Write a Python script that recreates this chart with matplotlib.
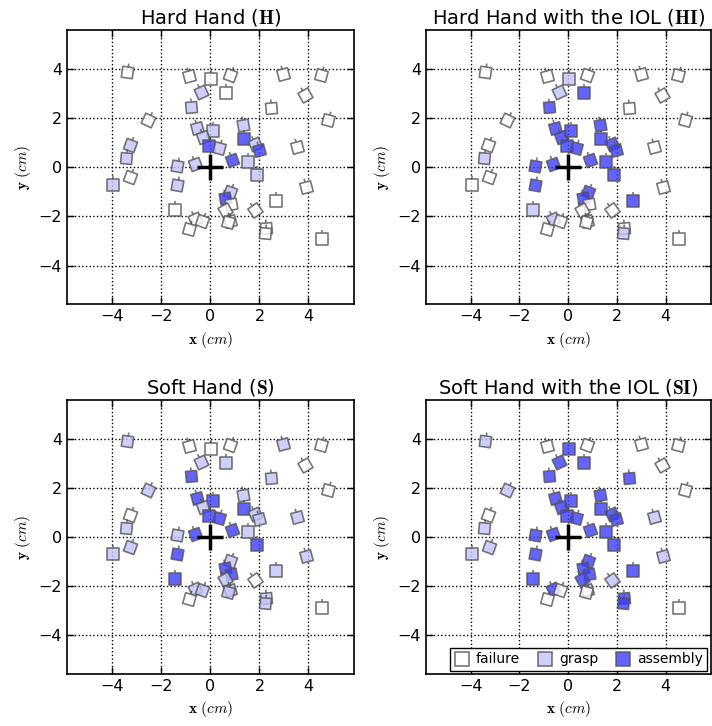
import matplotlib
matplotlib.use("Agg")
import matplotlib.pyplot as plt
from matplotlib.path import Path
from matplotlib.markers import MarkerStyle
from matplotlib.transforms import Affine2D
from matplotlib.lines import Line2D

plt.rcParams['mathtext.fontset'] = 'cm'
plt.rcParams['font.family'] = ['DejaVu Sans']

# test poses (cm) and orientations (deg)
xs = [-3.41, -0.86, 0.03, 0.79, -0.38, 0.65, -0.79, 2.98, 4.52, 3.85, 2.48, 4.78,
      -2.53, -3.28, -3.44, -3.27, -3.96, -0.56, 0.10, -0.31, -0.04, 0.34, 1.32, 1.35,
      1.80, 1.97, 0.88, 1.54, 1.90, -1.35, -0.61, -1.35, 3.52, 3.90, 0.80, 0.61,
      0.86, 0.58, 0.78, 0.72, -1.43, -0.63, -0.34, -0.88, 1.81, 2.67, 2.28, 2.24, 4.56]
ys = [3.90, 3.70, 3.58, 3.77, 3.05, 3.01, 2.47, 3.79, 3.75, 2.95, 2.41, 1.92,
      1.94, 0.92, 0.37, -0.41, -0.70, 1.60, 1.46, 1.22, 0.85, 0.77, 1.73, 1.15,
      0.95, 0.72, 0.31, 0.23, -0.32, 0.07, 0.14, -0.70, 0.81, -0.78, -0.99, -1.25,
      -1.50, -1.72, -2.17, -2.24, -1.72, -2.10, -2.17, -2.51, -1.73, -1.38, -2.48, -2.66, -2.90]
angles = [-8, 15, 0, -20, 25, 0, 5, 15, -15, 30, 5, -15,
          -25, -20, -5, -20, 0, 15, 0, 20, 0, -15, 10, 0,
          25, 15, 20, 0, 0, -10, 20, -10, 15, 15, -20, 10,
          10, 30, 15, -15, 0, 25, -20, -15, 35, 0, 5, -5, 0]

titles = ["Hard Hand ($\\mathbf{H}$)", "Hard Hand with the IOL ($\\mathbf{HI}$)",
          "Soft Hand ($\\mathbf{S}$)", "Soft Hand with the IOL ($\\mathbf{SI}$)"]

# outcome per pose (f = failure, g = grasp, a = assembly)
H = ['f','f','f','f','g','f','g','f','f','f','f','f','f','g','g','f','g','g','g','g','a','g','g','a',
     'g','a','a','g','g','g','g','g','f','f','g','a','f','f','f','f','f','f','f','f','f','f','f','f','f']
HI = ['f','f','g','f','g','a','a','f','f','f','f','f','f','f','g','f','f','a','a','a','a','a','a','a',
      'a','a','a','a','a','a','a','a','f','f','a','a','f','f','f','f','g','g','f','f','f','a','f','g','f']
S = ['g','f','f','f','g','g','a','g','f','f','g','f','g','f','g','g','g','a','a','g','a','a','g','a',
     'g','g','a','g','a','g','a','a','g','g','g','a','a','g','g','g','a','g','g','f','f','g','g','g','f']
SI = ['g','f','a','f','a','a','a','f','f','f','a','f','g','f','g','g','g','a','a','a','a','a','a','a',
      'a','a','a','a','a','a','a','a','g','g','a','a','a','a','g','f','a','a','f','f','g','a','a','a','f']
outcomes = [H, HI, S, SI]

colors = {'f': '#ffffff', 'g': '#c4c4fc', 'a': '#3c3cff'}
labels = {'f': 'failure', 'g': 'grasp', 'a': 'assembly'}

verts = [(-0.5, -0.5), (0.5, -0.5), (0.5, 0.5), (-0.5, 0.5), (-0.5, -0.5),
         (0.0, 0.5), (0.0, 0.82)]
codes = [Path.MOVETO, Path.LINETO, Path.LINETO, Path.LINETO, Path.CLOSEPOLY,
         Path.MOVETO, Path.LINETO]
part = Path(verts, codes)

fig = plt.figure(figsize=(7.12, 7.26), dpi=100)
rects = [[0.094, 0.581, 0.403, 0.377], [0.598, 0.581, 0.400, 0.377],
         [0.094, 0.0716, 0.403, 0.377], [0.598, 0.0716, 0.400, 0.377]]

for k in range(4):
    ax = fig.add_axes(rects[k])
    for x, y, a, o in zip(xs, ys, angles, outcomes[k]):
        m = MarkerStyle(part, transform=Affine2D().rotate_deg(a))
        ax.plot([x], [y], linestyle='none', marker=m, markersize=13,
                markerfacecolor=colors[o], markeredgecolor='#555555',
                markeredgewidth=1.2, alpha=0.8)
    ax.plot([0], [0], marker='+', markersize=19, markeredgewidth=2.5,
            color='black', linestyle='none', zorder=5)
    ax.set_xlim(-5.85, 5.85)
    ax.set_ylim(-5.57, 5.57)
    ax.set_xticks([-4, -2, 0, 2, 4])
    ax.set_yticks([-4, -2, 0, 2, 4])
    ax.grid(True, linestyle=':', color='black', linewidth=1)
    ax.set_axisbelow(True)
    ax.tick_params(direction='in', top=True, right=True, length=5, width=1,
                   labelsize=11.5)
    for s in ax.spines.values():
        s.set_linewidth(1.2)
    ax.set_title(titles[k], fontsize=14, pad=5)
    ax.set_xlabel("$\\mathbf{x}$ $(cm)$", fontsize=11)
    ax.set_ylabel("$\\mathbf{y}$ $(cm)$", fontsize=11)
    if k == 3:
        handles = [Line2D([], [], linestyle='none', marker='s', markersize=10,
                          markerfacecolor=colors[c], markeredgecolor='#555555',
                          markeredgewidth=1.2, alpha=0.8) for c in ['f', 'g', 'a']]
        leg = ax.legend(handles, [labels[c] for c in ['f', 'g', 'a']], loc='lower right',
                        ncol=3, fontsize=10, fancybox=False, framealpha=1,
                        edgecolor='black', handletextpad=0.4, columnspacing=1.2,
                        borderaxespad=0.25, handlelength=1.2, borderpad=0.3)
        leg.get_frame().set_linewidth(1.0)

fig.savefig("out.png", dpi=100)
